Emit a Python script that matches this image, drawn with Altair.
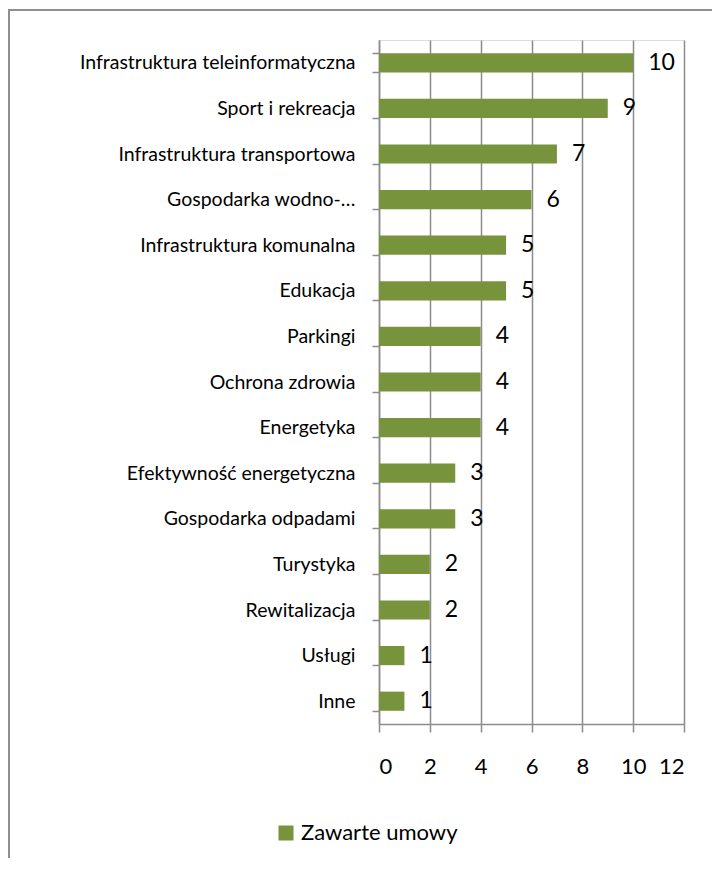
import altair as alt
import pandas as pd

categories = [
    "Infrastruktura teleinformatyczna",
    "Sport i rekreacja",
    "Infrastruktura transportowa",
    "Gospodarka wodno-…",
    "Infrastruktura komunalna",
    "Edukacja",
    "Parkingi",
    "Ochrona zdrowia",
    "Energetyka",
    "Efektywność energetyczna",
    "Gospodarka odpadami",
    "Turystyka",
    "Rewitalizacja",
    "Usługi",
    "Inne",
]
values = [10, 9, 7, 6, 5, 5, 4, 4, 4, 3, 3, 2, 2, 1, 1]
series_name = "Zawarte umowy"
x_ticks = [0, 2, 4, 6, 8, 10, 12]

df = pd.DataFrame({"kategoria": categories, "wartosc": values, "seria": series_name})

GREEN = "#77933C"
GRAY = "#8c8c8c"
FONT = "Lato"

frame = alt.Chart(pd.DataFrame({"a": [0]})).mark_rect(
    fill=None, stroke="#8f8f8f", strokeWidth=2
).encode(
    x=alt.value(-370), x2=alt.value(360), y=alt.value(-30), y2=alt.value(845)
)

y_enc = alt.Y(
    "kategoria:N",
    sort=categories,
    title=None,
    scale=alt.Scale(paddingInner=0.58, paddingOuter=0.29),
    axis=alt.Axis(
        tickBand="extent",
        tickSize=7,
        tickColor=GRAY,
        domainColor=GRAY,
        domainWidth=1.5,
        tickWidth=1.5,
        labelPadding=17,
        labelFontSize=19.5,
        labelFont=FONT,
        labelColor="#000000",
        labelLimit=400,
        grid=False,
    ),
)

x_enc = alt.X(
    "wartosc:Q",
    title=None,
    scale=alt.Scale(domain=[0, 12], nice=False),
    axis=alt.Axis(
        values=x_ticks,
        tickSize=8,
        tickColor=GRAY,
        domainColor=GRAY,
        domainWidth=1.5,
        tickWidth=1.5,
        gridColor=GRAY,
        gridWidth=1.5,
        labelPadding=24,
        labelFontSize=22,
        labelFont=FONT,
        labelColor="#000000",
    ),
)

bars = alt.Chart(df).mark_bar(color=GREEN).encode(
    x=x_enc,
    y=y_enc,
    color=alt.Color(
        "seria:N",
        scale=alt.Scale(range=[GREEN]),
        legend=alt.Legend(
            title=None,
            orient="none",
            legendX=-104,
            legendY=782,
            symbolType="square",
            symbolSize=225,
            symbolStrokeWidth=0,
            labelFontSize=22,
            labelFont=FONT,
            labelColor="#000000",
        ),
    ),
)

labels = alt.Chart(df).mark_text(
    align="left", baseline="middle", dx=15, fontSize=23, font=FONT, color="#000000"
).encode(
    x=alt.X("wartosc:Q"),
    y=alt.Y("kategoria:N", sort=categories),
    text=alt.Text("wartosc:Q"),
)

chart = alt.layer(frame, bars, labels).properties(
    width=305,
    height=684,
    autosize=alt.AutoSizeParams(type="none"),
    padding={"left": 371, "top": 32, "right": 28, "bottom": 134},
).configure_view(stroke=None).configure(background="white")

chart.save("out.html", embed_options={"renderer": "svg", "actions": False})
